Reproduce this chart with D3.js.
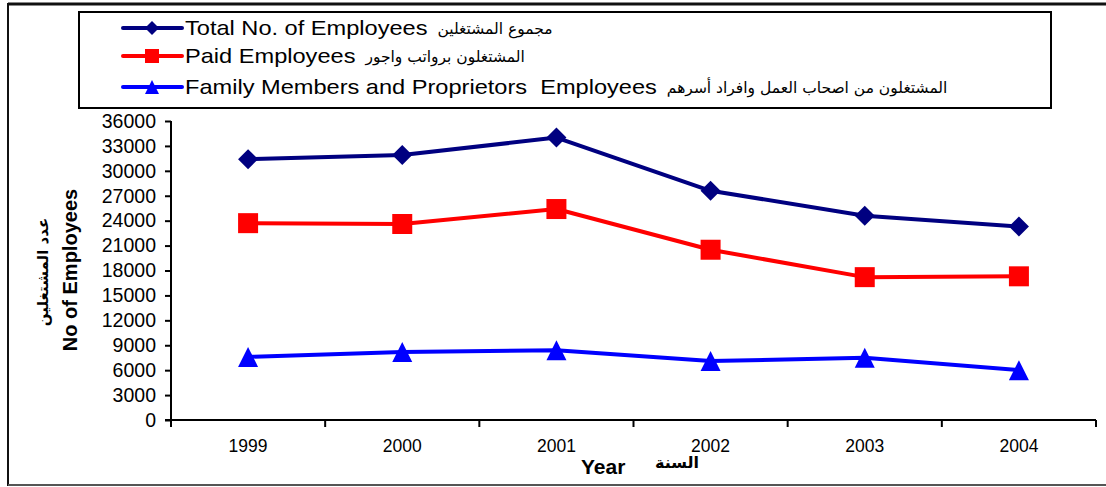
<!DOCTYPE html>
<head>
<meta charset="utf-8">
<style>
body{ margin:0; background:white; }
text{ font-family: "Liberation Sans", Arial, "DejaVu Sans", sans-serif; fill:black; }
.ar{ font-family: "DejaVu Sans", sans-serif; }
.line{ fill:none; stroke-width:4px; stroke-linejoin:round; }
</style>
</head>
<body>
<svg width="1106" height="487"></svg>
<script src="https://d3js.org/d3.v7.min.js"></script>
<script>

var years = ["1999", "2000", "2001", "2002", "2003", "2004"];
var totalEmp  = [31400, 31900, 34000, 27600, 24600, 23300];
var paidEmp   = [23700, 23600, 25400, 20500, 17200, 17300];
var familyEmp = [7600, 8200, 8400, 7100, 7500, 6000];
var yTicks = d3.range(0, 36001, 3000);

var series = [
  {en: "Total No. of Employees", ar: "مجموع المشتغلين", values: totalEmp, color: "#000080", shape: "diamond"},
  {en: "Paid Employees", ar: "المشتغلون برواتب واجور", values: paidEmp, color: "#ff0000", shape: "square"},
  {en: "Family Members and Proprietors  Employees", ar: "المشتغلون من اصحاب العمل وافراد أسرهم", values: familyEmp, color: "#0000ff", shape: "triangle"}
];

var svg = d3.select("svg");

var x = d3.scaleBand().domain(years).range([171, 1096]).padding(0);
var y = d3.scaleLinear().domain([0, 36000]).range([420, 121]);

// outer frame
svg.append("line").attr("x1", 8).attr("y1", 4).attr("x2", 1106).attr("y2", 4)
  .attr("stroke", "#111").attr("stroke-width", 3);
svg.append("line").attr("x1", 8).attr("y1", 3).attr("x2", 8).attr("y2", 486)
  .attr("stroke", "#111").attr("stroke-width", 2);
svg.append("line").attr("x1", 8).attr("y1", 485).attr("x2", 1106).attr("y2", 485)
  .attr("stroke", "#555").attr("stroke-width", 2);

function marker(shape, s) {
  if (shape == "diamond") return "M0," + (-s) + "L" + s + ",0L0," + s + "L" + (-s) + ",0Z";
  if (shape == "square") return "M" + (-s) + "," + (-s) + "h" + (2*s) + "v" + (2*s) + "h" + (-2*s) + "Z";
  return "M0," + (-s) + "L" + s + "," + s + "H" + (-s) + "Z";
}

// y axis
var yAxis = svg.append("g")
  .attr("transform", "translate(171,0)")
  .call(d3.axisLeft(y).tickValues(yTicks).tickSize(6).tickPadding(9).tickFormat(d3.format("d")));
yAxis.select(".domain").attr("stroke", "black").attr("stroke-width", 2).attr("d", "M0,121V420");
yAxis.selectAll(".tick line").attr("stroke", "black").attr("stroke-width", 2);
yAxis.selectAll(".tick text").style("font-size", "19.5px").attr("fill", "black")
  .style("font-family", '"Liberation Sans", Arial, sans-serif');

// x axis: line and ticks on the category boundaries
var xg = svg.append("g");
xg.append("line").attr("x1", 165).attr("x2", x.range()[1]).attr("y1", y(0)).attr("y2", y(0))
  .attr("stroke", "black").attr("stroke-width", 2);
var bounds = years.map(function(d) { return x(d); }).concat([x.range()[1]]);
xg.selectAll(".xt").data(bounds).enter().append("line")
  .attr("x1", d => d).attr("x2", d => d)
  .attr("y1", y(0)).attr("y2", y(0) + 7)
  .attr("stroke", "black").attr("stroke-width", 2);
xg.selectAll(".xl").data(years).enter().append("text")
  .attr("x", d => x(d) + x.bandwidth() / 2)
  .attr("y", 452)
  .attr("text-anchor", "middle")
  .style("font-size", "17.5px")
  .text(d => d);

// axis titles
svg.append("text").attr("x", 581).attr("y", 474)
  .style("font-size", "21px").style("font-weight", "bold").text("Year");
svg.append("text").attr("class", "ar").attr("x", 655).attr("y", 468)
  .style("font-size", "16px").style("font-weight", "bold").text("السنة");
svg.append("text").attr("transform", "translate(77,270) rotate(-90)")
  .attr("text-anchor", "middle")
  .style("font-size", "20px").style("font-weight", "bold").text("No of Employees");
svg.append("text").attr("class", "ar").attr("transform", "translate(48,272) rotate(-90)")
  .attr("text-anchor", "middle")
  .style("font-size", "15px").style("font-weight", "bold").text("عدد المشتغلين");

// lines + markers
var line = d3.line()
  .x((d, i) => x(years[i]) + x.bandwidth() / 2)
  .y(d => y(d));

series.forEach(function(s) {
  svg.append("path").attr("class", "line")
    .attr("d", line(s.values))
    .attr("stroke", s.color);
  svg.selectAll(null).data(s.values).enter().append("path")
    .attr("transform", (d, i) => "translate(" + (x(years[i]) + x.bandwidth() / 2) + "," + y(d) + ")")
    .attr("d", marker(s.shape, 10))
    .attr("fill", s.color);
});

// legend
var leg = svg.append("g");
leg.append("rect").attr("x", 79).attr("y", 12).attr("width", 972).attr("height", 96)
  .attr("fill", "white").attr("stroke", "black").attr("stroke-width", 2);
var rowY = [28, 56, 87];
var stretch = 1.18;
series.forEach(function(s, i) {
  var g = leg.append("g").attr("transform", "translate(0," + rowY[i] + ")");
  g.append("line").attr("x1", 123).attr("x2", 182).attr("y1", 0).attr("y2", 0)
    .attr("stroke", s.color).attr("stroke-width", 4).attr("stroke-linecap", "round");
  g.append("path").attr("transform", "translate(152,0)")
    .attr("d", marker(s.shape, 7)).attr("fill", s.color);
  var t = g.append("text").attr("transform", "translate(185,7) scale(" + stretch + ",1)")
    .style("font-size", "20px").style("white-space", "pre").text(s.en);
  var w = t.node().getComputedTextLength() * stretch;
  g.append("text").attr("class", "ar").attr("x", 185 + w + 10).attr("y", 6)
    .style("font-size", "15.5px").text(s.ar);
});

</script>
</body>
